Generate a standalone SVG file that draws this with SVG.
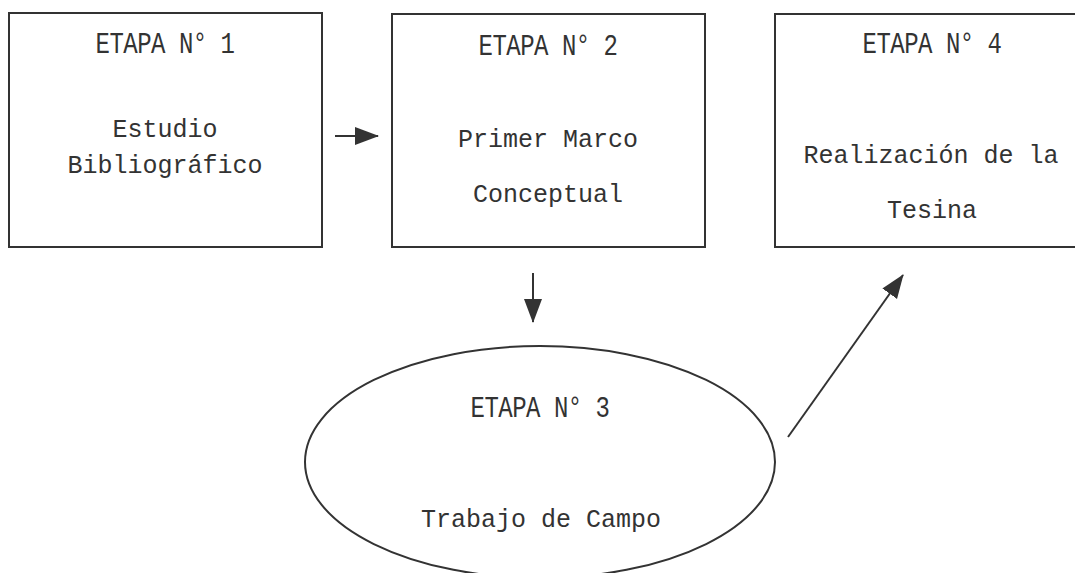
<svg xmlns="http://www.w3.org/2000/svg" width="1075" height="573" viewBox="0 0 1075 573">
<style>
.box{fill:none;stroke:#333;stroke-width:2}
.t{font-family:"Liberation Mono",monospace;font-size:25px;fill:#333;text-anchor:middle}
.h{font-family:"Liberation Mono",monospace;font-size:24px;fill:#333;text-anchor:middle;letter-spacing:-0.5px}
.c{stroke:#333;stroke-width:2;fill:none;marker-end:url(#ah)}
</style>
<defs>
<marker id="ah" markerUnits="userSpaceOnUse" markerWidth="24" markerHeight="20" viewBox="0 0 24 20" refX="23" refY="10" orient="auto">
<path d="M0,1 L24,10 L0,19 Z" fill="#333"/>
</marker>
</defs>
<rect width="1075" height="573" fill="#fff"/>
<g id="etapa1">
<rect class="box" x="9" y="13" width="313" height="234"/>
<text class="h" x="165" y="42.4" transform="scale(1,1.25)">ETAPA N° 1</text>
<text class="t" x="165" y="137">Estudio</text>
<text class="t" x="165" y="173">Bibliográfico</text>
</g>
<g id="etapa2">
<rect class="box" x="392" y="14" width="313" height="233"/>
<text class="h" x="548" y="44" transform="scale(1,1.25)">ETAPA N° 2</text>
<text class="t" x="548" y="147">Primer Marco</text>
<text class="t" x="548" y="202">Conceptual</text>
</g>
<g id="etapa4">
<rect class="box" x="775" y="14" width="314" height="233"/>
<text class="h" x="932" y="42.4" transform="scale(1,1.25)">ETAPA N° 4</text>
<text class="t" x="931" y="163">Realización de la</text>
<text class="t" x="932" y="218">Tesina</text>
</g>
<g id="etapa3">
<ellipse class="box" cx="540" cy="462" rx="235" ry="116"/>
<text class="h" x="540" y="333.6" transform="scale(1,1.25)">ETAPA N° 3</text>
<text class="t" x="541" y="527">Trabajo de Campo</text>
</g>
<g id="connectors">
<line class="c" x1="335" y1="136" x2="378" y2="136"/>
<line class="c" x1="533" y1="273" x2="533" y2="322"/>
<line class="c" x1="788" y1="437" x2="903" y2="275"/>
</g>
</svg>
